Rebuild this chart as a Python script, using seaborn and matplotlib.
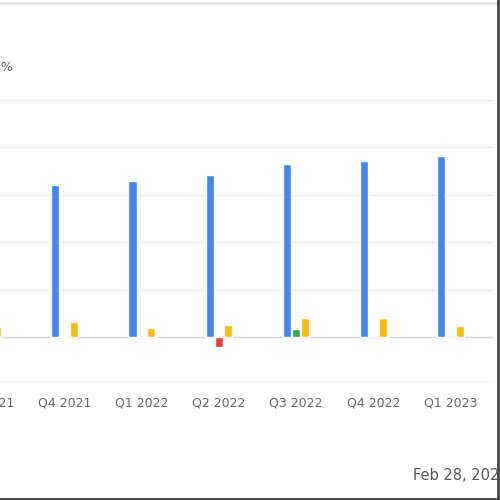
import numpy as np
import pandas as pd
import matplotlib.pyplot as plt
import seaborn as sns
from matplotlib.lines import Line2D

quarters = ["Q3 2021", "Q4 2021", "Q1 2022", "Q2 2022", "Q3 2022", "Q4 2022", "Q1 2023"]
series = ["Revenue", "Net Income", "Free Cash Flow"]
revenue = [15.6, 16.0, 16.4, 17.1, 18.2, 18.6, 19.1]
net_income = [0.0, 0.05, 0.03, -1.05, 0.85, 0.08, 0.05]
free_cash = [1.1, 1.6, 0.95, 1.25, 2.0, 2.0, 1.15]

blue = "#4285F4"
green = "#34A853"
red = "#EA4335"
yellow = "#FBBC04"

df = pd.DataFrame({
    "Quarter": quarters * 3,
    "Series": [series[0]] * 7 + [series[1]] * 7 + [series[2]] * 7,
    "Value": revenue + net_income + free_cash,
})

sns.set_style("white")
fig = plt.figure(figsize=(5, 5), dpi=100)
ax = fig.add_axes([-0.1026, 0.238, 1.0886, 0.619])

sns.barplot(data=df, x="Quarter", y="Value", hue="Series", order=quarters,
            hue_order=series, palette=[blue, green, yellow], width=0.36,
            gap=0.12, saturation=1, legend=False, ax=ax, zorder=3)

# net income bars: red when negative
for p in ax.containers[1]:
    if p.get_height() < 0:
        p.set_facecolor(red)

ax.set_xlim(-0.5, 6.55)
ax.set_ylim(-4.64, 28)
ax.set_yticks(range(0, 30, 5))
ax.yaxis.grid(True, color="#ebebeb", lw=1)
ax.axhline(0, color="#d6d6d6", lw=1, zorder=2)
ax.tick_params(axis="y", length=0, labelleft=False)
ax.tick_params(axis="x", length=0, pad=11, labelsize=9, colors="#666666")
ax.set_xlabel("")
ax.set_ylabel("")
for s in ["top", "left", "right"]:
    ax.spines[s].set_visible(False)
ax.spines["bottom"].set_color("#eeeeee")

fig.text(0.026, 1 - 68 / 500, "Margin %", ha="right", va="center",
         fontsize=9, color="#555555")
fig.text(413 / 500, 1 - 475 / 500, "Feb 28, 2023", ha="left", va="center",
         fontsize=10.5, color="#555555")

fig.add_artist(Line2D([0, 1], [0.994, 0.994], transform=fig.transFigure,
                      color="#e6e6e6", lw=2))
fig.add_artist(Line2D([0.996, 0.996], [0, 1], transform=fig.transFigure,
                      color="#444444", lw=2))
fig.add_artist(Line2D([0, 1], [0.003, 0.003], transform=fig.transFigure,
                      color="#444444", lw=2))

fig.savefig("out.png", dpi=100)
